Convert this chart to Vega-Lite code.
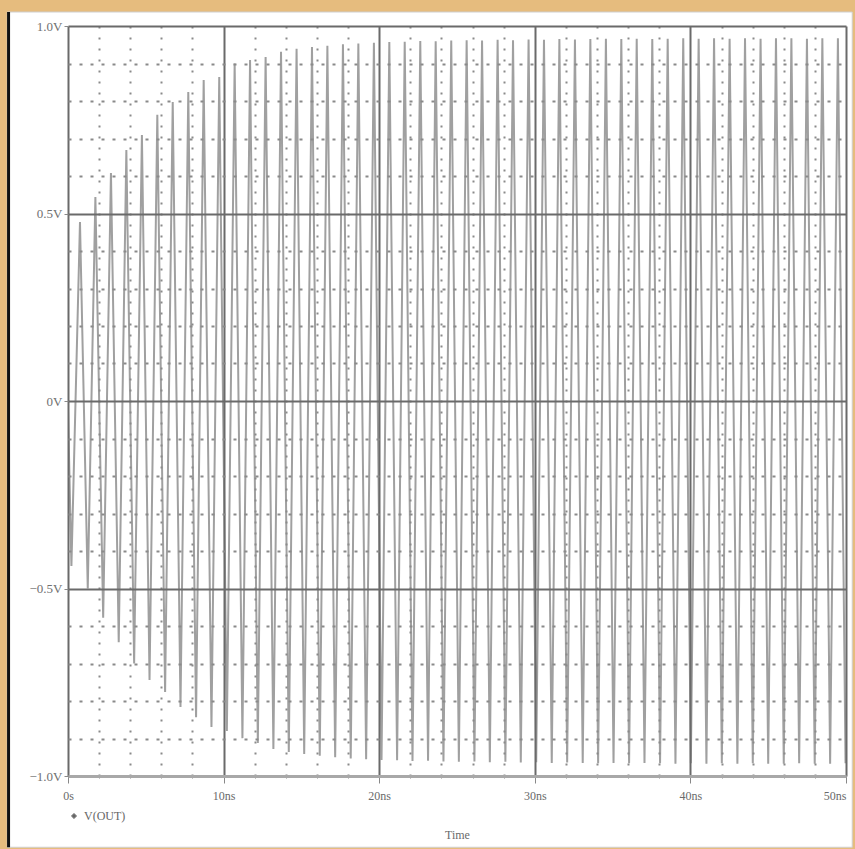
{
  "$schema": "https://vega.github.io/schema/vega-lite/v6.json",
  "width": 778,
  "height": 750,
  "autosize": {"type": "none"},
  "padding": {"left": 68, "top": 26, "right": 9, "bottom": 73},
  "background": "#E6BC7E",
  "config": {
    "view": {"stroke": null, "fill": "white"},
    "font": "Liberation Serif"
  },
  "data": {"values": [
    {"t": 0, "v": -0.02},
    {"t": 0.22, "v": -0.44},
    {"t": 0.77, "v": 0.477}, {"t": 1.27, "v": -0.500},
    {"t": 1.76, "v": 0.544}, {"t": 2.26, "v": -0.578},
    {"t": 2.76, "v": 0.608}, {"t": 3.26, "v": -0.643},
    {"t": 3.75, "v": 0.669}, {"t": 4.25, "v": -0.700},
    {"t": 4.75, "v": 0.709}, {"t": 5.24, "v": -0.744},
    {"t": 5.74, "v": 0.763}, {"t": 6.24, "v": -0.776},
    {"t": 6.73, "v": 0.797}, {"t": 7.23, "v": -0.816},
    {"t": 7.73, "v": 0.824}, {"t": 8.23, "v": -0.843},
    {"t": 8.72, "v": 0.856}, {"t": 9.22, "v": -0.869},
    {"t": 9.72, "v": 0.864}, {"t": 10.21, "v": -0.880},
    {"t": 10.71, "v": 0.900}, {"t": 11.21, "v": -0.899},
    {"t": 11.70, "v": 0.909}, {"t": 12.20, "v": -0.912},
    {"t": 12.70, "v": 0.917}, {"t": 13.20, "v": -0.928},
    {"t": 13.69, "v": 0.931}, {"t": 14.19, "v": -0.936},
    {"t": 14.69, "v": 0.939}, {"t": 15.18, "v": -0.941},
    {"t": 15.68, "v": 0.944}, {"t": 16.18, "v": -0.946},
    {"t": 16.67, "v": 0.947}, {"t": 17.17, "v": -0.950},
    {"t": 17.67, "v": 0.951}, {"t": 18.17, "v": -0.953},
    {"t": 18.66, "v": 0.953}, {"t": 19.16, "v": -0.955},
    {"t": 19.66, "v": 0.955}, {"t": 20.15, "v": -0.957},
    {"t": 20.65, "v": 0.957}, {"t": 21.15, "v": -0.958},
    {"t": 21.64, "v": 0.958}, {"t": 22.14, "v": -0.960},
    {"t": 22.64, "v": 0.960}, {"t": 23.14, "v": -0.959},
    {"t": 23.63, "v": 0.959}, {"t": 24.13, "v": -0.961},
    {"t": 24.63, "v": 0.961}, {"t": 25.12, "v": -0.962},
    {"t": 25.62, "v": 0.962}, {"t": 26.12, "v": -0.961},
    {"t": 26.61, "v": 0.961}, {"t": 27.11, "v": -0.963},
    {"t": 27.61, "v": 0.963}, {"t": 28.11, "v": -0.962},
    {"t": 28.60, "v": 0.962}, {"t": 29.10, "v": -0.964},
    {"t": 29.60, "v": 0.964}, {"t": 30.09, "v": -0.963},
    {"t": 30.59, "v": 0.963}, {"t": 31.09, "v": -0.965},
    {"t": 31.58, "v": 0.965}, {"t": 32.08, "v": -0.964},
    {"t": 32.58, "v": 0.964}, {"t": 33.08, "v": -0.965},
    {"t": 33.57, "v": 0.965}, {"t": 34.07, "v": -0.966},
    {"t": 34.57, "v": 0.966}, {"t": 35.06, "v": -0.965},
    {"t": 35.56, "v": 0.965}, {"t": 36.06, "v": -0.966},
    {"t": 36.55, "v": 0.966}, {"t": 37.05, "v": -0.965},
    {"t": 37.55, "v": 0.965}, {"t": 38.05, "v": -0.966},
    {"t": 38.54, "v": 0.966}, {"t": 39.04, "v": -0.967},
    {"t": 39.54, "v": 0.967}, {"t": 40.03, "v": -0.966},
    {"t": 40.53, "v": 0.966}, {"t": 41.03, "v": -0.967},
    {"t": 41.52, "v": 0.967}, {"t": 42.02, "v": -0.966},
    {"t": 42.52, "v": 0.966}, {"t": 43.02, "v": -0.967},
    {"t": 43.51, "v": 0.967}, {"t": 44.01, "v": -0.966},
    {"t": 44.51, "v": 0.966}, {"t": 45.00, "v": -0.967},
    {"t": 45.50, "v": 0.967}, {"t": 46.00, "v": -0.967},
    {"t": 46.49, "v": 0.967}, {"t": 46.99, "v": -0.966},
    {"t": 47.49, "v": 0.966}, {"t": 47.99, "v": -0.967},
    {"t": 48.48, "v": 0.967}, {"t": 48.98, "v": -0.967},
    {"t": 49.48, "v": 0.967}, {"t": 49.97, "v": -0.966}
  ]},
  "layer": [
    {
      "data": {"values": [{}]},
      "mark": {"type": "rect", "fill": "white", "stroke": "#cfcfcf", "strokeWidth": 1},
      "encoding": {
        "x": {"datum": -3.9, "type": "quantitative"},
        "x2": {"datum": 50.4},
        "y": {"datum": 1.0373, "type": "quantitative"},
        "y2": {"datum": -1.19}
      }
    },
    {
      "data": {"values": [{}]},
      "mark": {"type": "rule", "stroke": "#111111", "strokeWidth": 3},
      "encoding": {
        "x": {"datum": -3.82, "type": "quantitative"},
        "y": {"datum": 1.0373, "type": "quantitative"},
        "y2": {"datum": -1.19}
      }
    },
    {
      "mark": {"type": "line", "strokeWidth": 2, "clip": true},
      "encoding": {
        "x": {
          "field": "t", "type": "quantitative",
          "scale": {"domain": [0, 50], "nice": false, "zero": false},
          "axis": {
            "zindex": 1,
            "tickCount": 200,
            "values": [0,2,4,6,8,10,12,14,16,18,20,22,24,26,28,30,32,34,36,38,40,42,44,46,48,50],
            "grid": true,
            "gridColor": {"condition": {"test": "datum.value % 10 == 0", "value": "#6a6a6a"}, "value": "#8a8a8a"},
            "gridDash": {"condition": {"test": "datum.value % 10 == 0", "value": []}, "value": [2, 9]},
            "gridWidth": 2,
            "domain": true,
            "domainColor": "#a8a8a8",
            "domainWidth": 3,
            "ticks": true,
            "tickColor": "#888888",
            "tickSize": {"condition": {"test": "datum.value % 10 == 0", "value": 7}, "value": 2},
            "labelExpr": "datum.value == 0 ? '0s' : (datum.value % 10 == 0 ? datum.value + 'ns' : '')",
            "labelOverlap": false,
            "labelFlush": false,
            "labelAlign": {"condition": {"test": "datum.value == 50", "value": "right"}, "value": "center"},
            "labelPadding": 7,
            "labelFontSize": 12,
            "labelColor": "#6a6a6a",
            "title": "Time",
            "titleFontSize": 12,
            "titleFontWeight": "normal",
            "titleColor": "#6a6a6a",
            "titlePadding": 28
          }
        },
        "y": {
          "field": "v", "type": "quantitative",
          "scale": {"domain": [-1, 1], "nice": false, "zero": false},
          "axis": {
            "zindex": 1,
            "tickCount": 200,
            "values": [-1,-0.9,-0.8,-0.7,-0.6,-0.5,-0.4,-0.3,-0.2,-0.1,0,0.1,0.2,0.3,0.4,0.5,0.6,0.7,0.8,0.9,1],
            "grid": true,
            "gridColor": {"condition": {"test": "abs(datum.value*2 - round(datum.value*2)) < 0.01", "value": "#6a6a6a"}, "value": "#8a8a8a"},
            "gridDash": {"condition": {"test": "abs(datum.value*2 - round(datum.value*2)) < 0.01", "value": []}, "value": [3, 8]},
            "gridWidth": 2,
            "domain": false,
            "ticks": true,
            "tickColor": "#888888",
            "tickSize": {"condition": {"test": "abs(datum.value*2 - round(datum.value*2)) < 0.01", "value": 4}, "value": 0},
            "labelExpr": "abs(datum.value*2 - round(datum.value*2)) < 0.01 ? (datum.value == 0 ? '0V' : format(datum.value, '.1f') + 'V') : ''",
            "labelOverlap": false,
            "labelFlush": false,
            "labelPadding": 2,
            "labelFontSize": 13,
            "labelColor": "#707070",
            "title": null
          }
        },
        "color": {
          "datum": "V(OUT)",
          "scale": {"range": ["#a0a0a0"]},
          "legend": {
            "orient": "bottom",
            "offset": -30,
            "title": null,
            "symbolType": "diamond",
            "symbolFillColor": "#666666",
            "symbolStrokeColor": "#666666",
            "symbolStrokeWidth": 1,
            "symbolSize": 30,
            "labelFontSize": 12,
            "labelColor": "#666666"
          }
        }
      }
    }
  ]
}
